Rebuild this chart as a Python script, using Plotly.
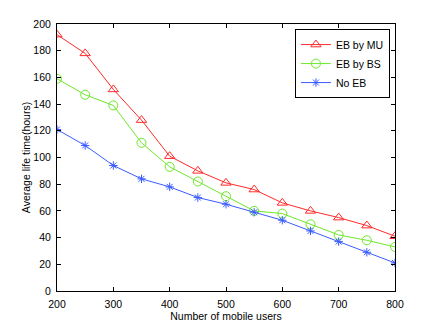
import plotly.graph_objects as go

# --- data ---
users = [200, 250, 300, 350, 400, 450, 500, 550, 600, 650, 700, 750, 800]
eb_by_mu = [192, 178, 151, 128, 101, 90, 81, 76, 66, 60, 55, 49, 41]
eb_by_bs = [159, 147, 139, 111, 93, 82, 71, 60, 58, 50, 42, 38, 33]
no_eb = [121, 109, 94, 84, 78, 70, 65, 59, 53, 45, 37, 29, 21]

fig = go.Figure()
fig.add_trace(go.Scatter(x=users, y=eb_by_mu, name='EB by MU', mode='lines+markers',
                         line=dict(color='#ff2a2a', width=1),
                         marker=dict(symbol='triangle-up-open', size=9, color='#ff2a2a', line=dict(width=1))))
fig.add_trace(go.Scatter(x=users, y=eb_by_bs, name='EB by BS', mode='lines+markers',
                         line=dict(color='#6ee82a', width=1),
                         marker=dict(symbol='circle-open', size=9, color='#6ee82a', line=dict(width=1))))
fig.add_trace(go.Scatter(x=users, y=no_eb, name='No EB', mode='lines+markers',
                         line=dict(color='#3a5cff', width=1),
                         marker=dict(symbol='asterisk-open', size=7, color='#3a5cff', line=dict(width=1, color='#3a5cff'))))

axis_style = dict(showline=True, linecolor='black', linewidth=1, mirror='ticks',
                  ticks='inside', ticklen=4, tickcolor='black', showgrid=False, zeroline=False,
                  tickfont=dict(size=10.5, color='black'))

fig.update_layout(
    width=436, height=328,
    margin=dict(l=57, r=41, t=24, b=37),
    paper_bgcolor='white', plot_bgcolor='white',
    font=dict(family='Liberation Sans, Arial, sans-serif', size=10, color='black'),
    showlegend=True,
    legend=dict(x=0.985, y=0.981, xanchor='right', yanchor='top',
                bgcolor='white', bordercolor='black', borderwidth=1,
                font=dict(size=10.5), tracegroupgap=0, itemwidth=30),
)
fig.update_xaxes(range=[200, 800], dtick=100, tick0=200, ticklabelstandoff=3,
                 title=dict(text='Number of mobile users', font=dict(size=10.5), standoff=0), **axis_style)
fig.update_yaxes(range=[0, 200], dtick=20, tick0=0, ticklabelstandoff=3,
                 title=dict(text='Average life time(hours)', font=dict(size=10.5), standoff=0), **axis_style)

# the page is photographed at exactly the figure size, so drop the default body margin
fig.write_html("out.html", config={'displayModeBar': False},
               post_script="document.body.style.margin='0';")
